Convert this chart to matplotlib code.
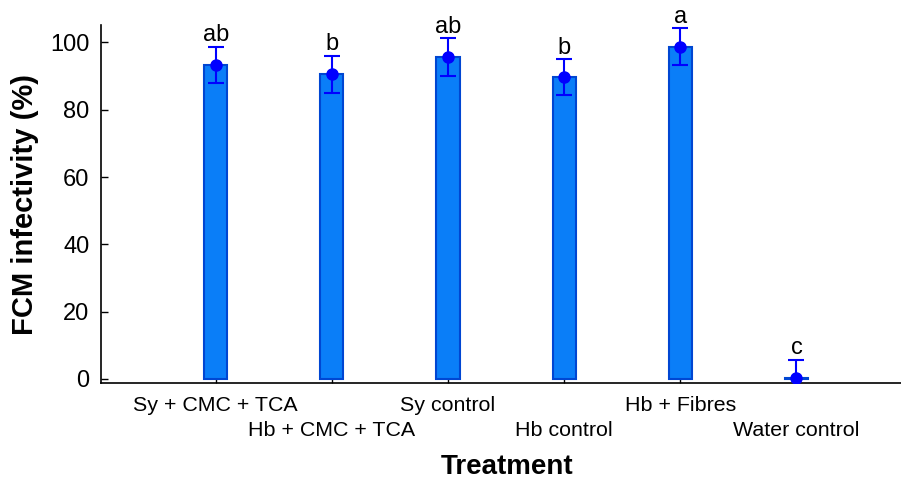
import matplotlib
matplotlib.use("Agg")
import matplotlib.pyplot as plt
import numpy as np

categories = ["Sy + CMC + TCA", "Hb + CMC + TCA", "Sy control", "Hb control", "Hb + Fibres", "Water control"]
means = [93.3, 90.6, 95.6, 89.7, 98.7, 0.4]
errors = [5.4, 5.5, 5.6, 5.3, 5.5, 5.2]
letters = ["ab", "b", "ab", "b", "a", "c"]

plt.rcParams['font.family'] = ['Liberation Sans', 'DejaVu Sans']

fig = plt.figure(figsize=(9.01, 4.78), dpi=100)
ax = fig.add_axes([100.7/901, 1 - 383.3/478, 1 - 100.7/901, (383.3 - 25)/478])

x = np.arange(1, len(categories) + 1)
ax.bar(x, means, width=0.2, color="#0A7EF8", edgecolor="#0046D2", linewidth=1.5, zorder=2)
ax.errorbar(x, means, yerr=errors, fmt='o', color="#0000FF", ms=8, capsize=6,
            elinewidth=1.5, capthick=1.5, zorder=3)
for xi, m, e, l in zip(x, means, errors, letters):
    ax.annotate(l, (xi, m + e), xytext=(0, 0.5), textcoords='offset points',
                ha='center', va='bottom', fontsize=17)

ax.set_xlim(0.01, 6.9)
ax.set_ylim(-1.3, 105.2)
ax.set_yticks([0, 20, 40, 60, 80, 100])
ax.set_xticks(x)
labels = [c if i % 2 == 0 else "\n" + c for i, c in enumerate(categories)]
ax.set_xticklabels(labels, linespacing=1.35)
ax.tick_params(axis='y', direction='in', labelsize=17, pad=8, length=5, width=1)
ax.tick_params(axis='x', direction='in', labelsize=15.4, pad=9.5, length=4, width=1)
for s in ['top', 'right']:
    ax.spines[s].set_visible(False)
for s in ['left', 'bottom']:
    ax.spines[s].set_linewidth(1.2)

ax.set_ylabel("FCM infectivity (%)", fontsize=21, fontweight='bold', labelpad=8)
ax.set_xlabel("Treatment", fontsize=20, fontweight='bold')
ax.xaxis.set_label_coords((507 - 100.7) / 800.3, -0.197)

fig.savefig("out.png", dpi=100)
